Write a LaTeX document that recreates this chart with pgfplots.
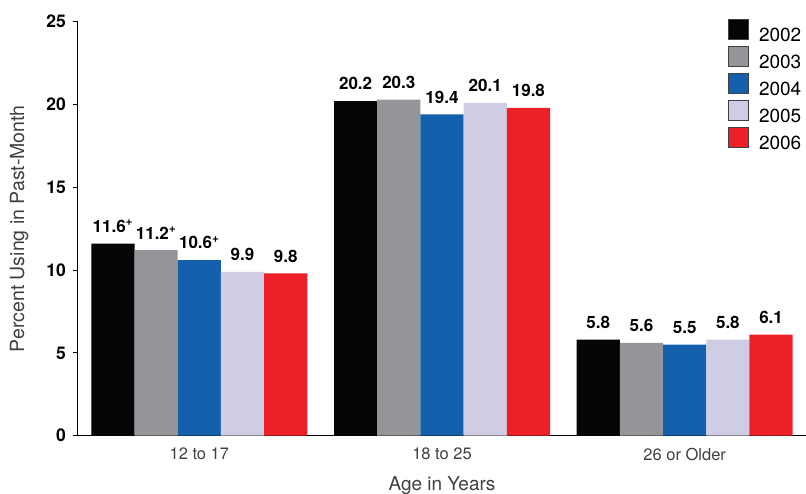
\documentclass[border=0pt]{standalone}
\usepackage{pgfplots}
\pgfplotsset{compat=1.18}
\usepackage{fontspec}
\setmainfont{TeX Gyre Heros}
\definecolor{cA}{HTML}{050505}
\definecolor{cB}{HTML}{939598}
\definecolor{cC}{HTML}{1560AC}
\definecolor{cD}{HTML}{CFCDE6}
\definecolor{cE}{HTML}{ED1F27}
\begin{document}
\begin{tikzpicture}[x=1pt,y=1pt]
\useasboundingbox (0,0) rectangle (806,494);
\begin{axis}[
  at={(78pt,58.3pt)}, anchor=south west,
  scale only axis, width=728pt, height=414pt,
  xmin=-0.5, xmax=2.5, ymin=0, ymax=25,
  ybar=0pt, bar width=43.2pt,
  axis lines=left,
  axis line style={-, line width=1pt, black},
  ytick={0,5,10,15,20,25},
  xtick={0,1,2},
  xticklabels={12 to 17,18 to 25,26 or Older},
  tick align=outside,
  major tick length=5pt,
  y tick style={line width=1pt, black},
  x tick style={draw=none},
  /pgf/number format/assume math mode=true,
  yticklabel style={font=\fontsize{17.5}{20}\selectfont\bfseries, inner sep=0pt, xshift=-7pt},
  xticklabel style={font=\fontsize{16.5}{19}\selectfont, text=black!75, inner sep=0pt, yshift=-7pt},
  xlabel={Age in Years},
  ylabel={Percent Using in Past-Month},
  xlabel style={font=\fontsize{19}{22}\selectfont, text=black!75, at={(axis description cs:0.5,-0.1215)}, anchor=center},
  ylabel style={font=\fontsize{19.5}{22}\selectfont, text=black!75, at={(axis description cs:-0.081,0.5)}, anchor=center},
  point meta=explicit symbolic,
  nodes near coords,
  every node near coord/.append style={font=\fontsize{17}{20}\selectfont\bfseries, inner sep=0pt, anchor=south, yshift=11pt, text=black},
  legend image code/.code={\draw[#1, draw=black!75, line width=1pt] (0pt,-4pt) rectangle (20pt,16pt);},
  legend style={at={(axis description cs:0.8929,1.006)}, anchor=north west, draw=none, fill=none, inner sep=0pt, outer sep=0pt,
    font=\fontsize{19}{20}\selectfont, row sep=3pt,
    nodes={inner sep=0pt},
    /tikz/every odd column/.append style={column sep=10pt}},
  legend cell align=left,
]
\addplot[fill=cA, draw=none] coordinates {(0,11.6) [11.6\textsuperscript{+}] (1,20.2) [20.2] (2,5.8) [5.8]};
\addplot[fill=cB, draw=none] coordinates {(0,11.2) [11.2\textsuperscript{+}] (1,20.3) [20.3] (2,5.6) [5.6]};
\addplot[fill=cC, draw=none] coordinates {(0,10.6) [10.6\textsuperscript{+}] (1,19.4) [19.4] (2,5.5) [5.5]};
\addplot[fill=cD, draw=none] coordinates {(0,9.9) [9.9] (1,20.1) [20.1] (2,5.8) [5.8]};
\addplot[fill=cE, draw=none] coordinates {(0,9.8) [9.8] (1,19.8) [19.8] (2,6.1) [6.1]};
\legend{2002,2003,2004,2005,2006}
\end{axis}
\end{tikzpicture}
\end{document}
